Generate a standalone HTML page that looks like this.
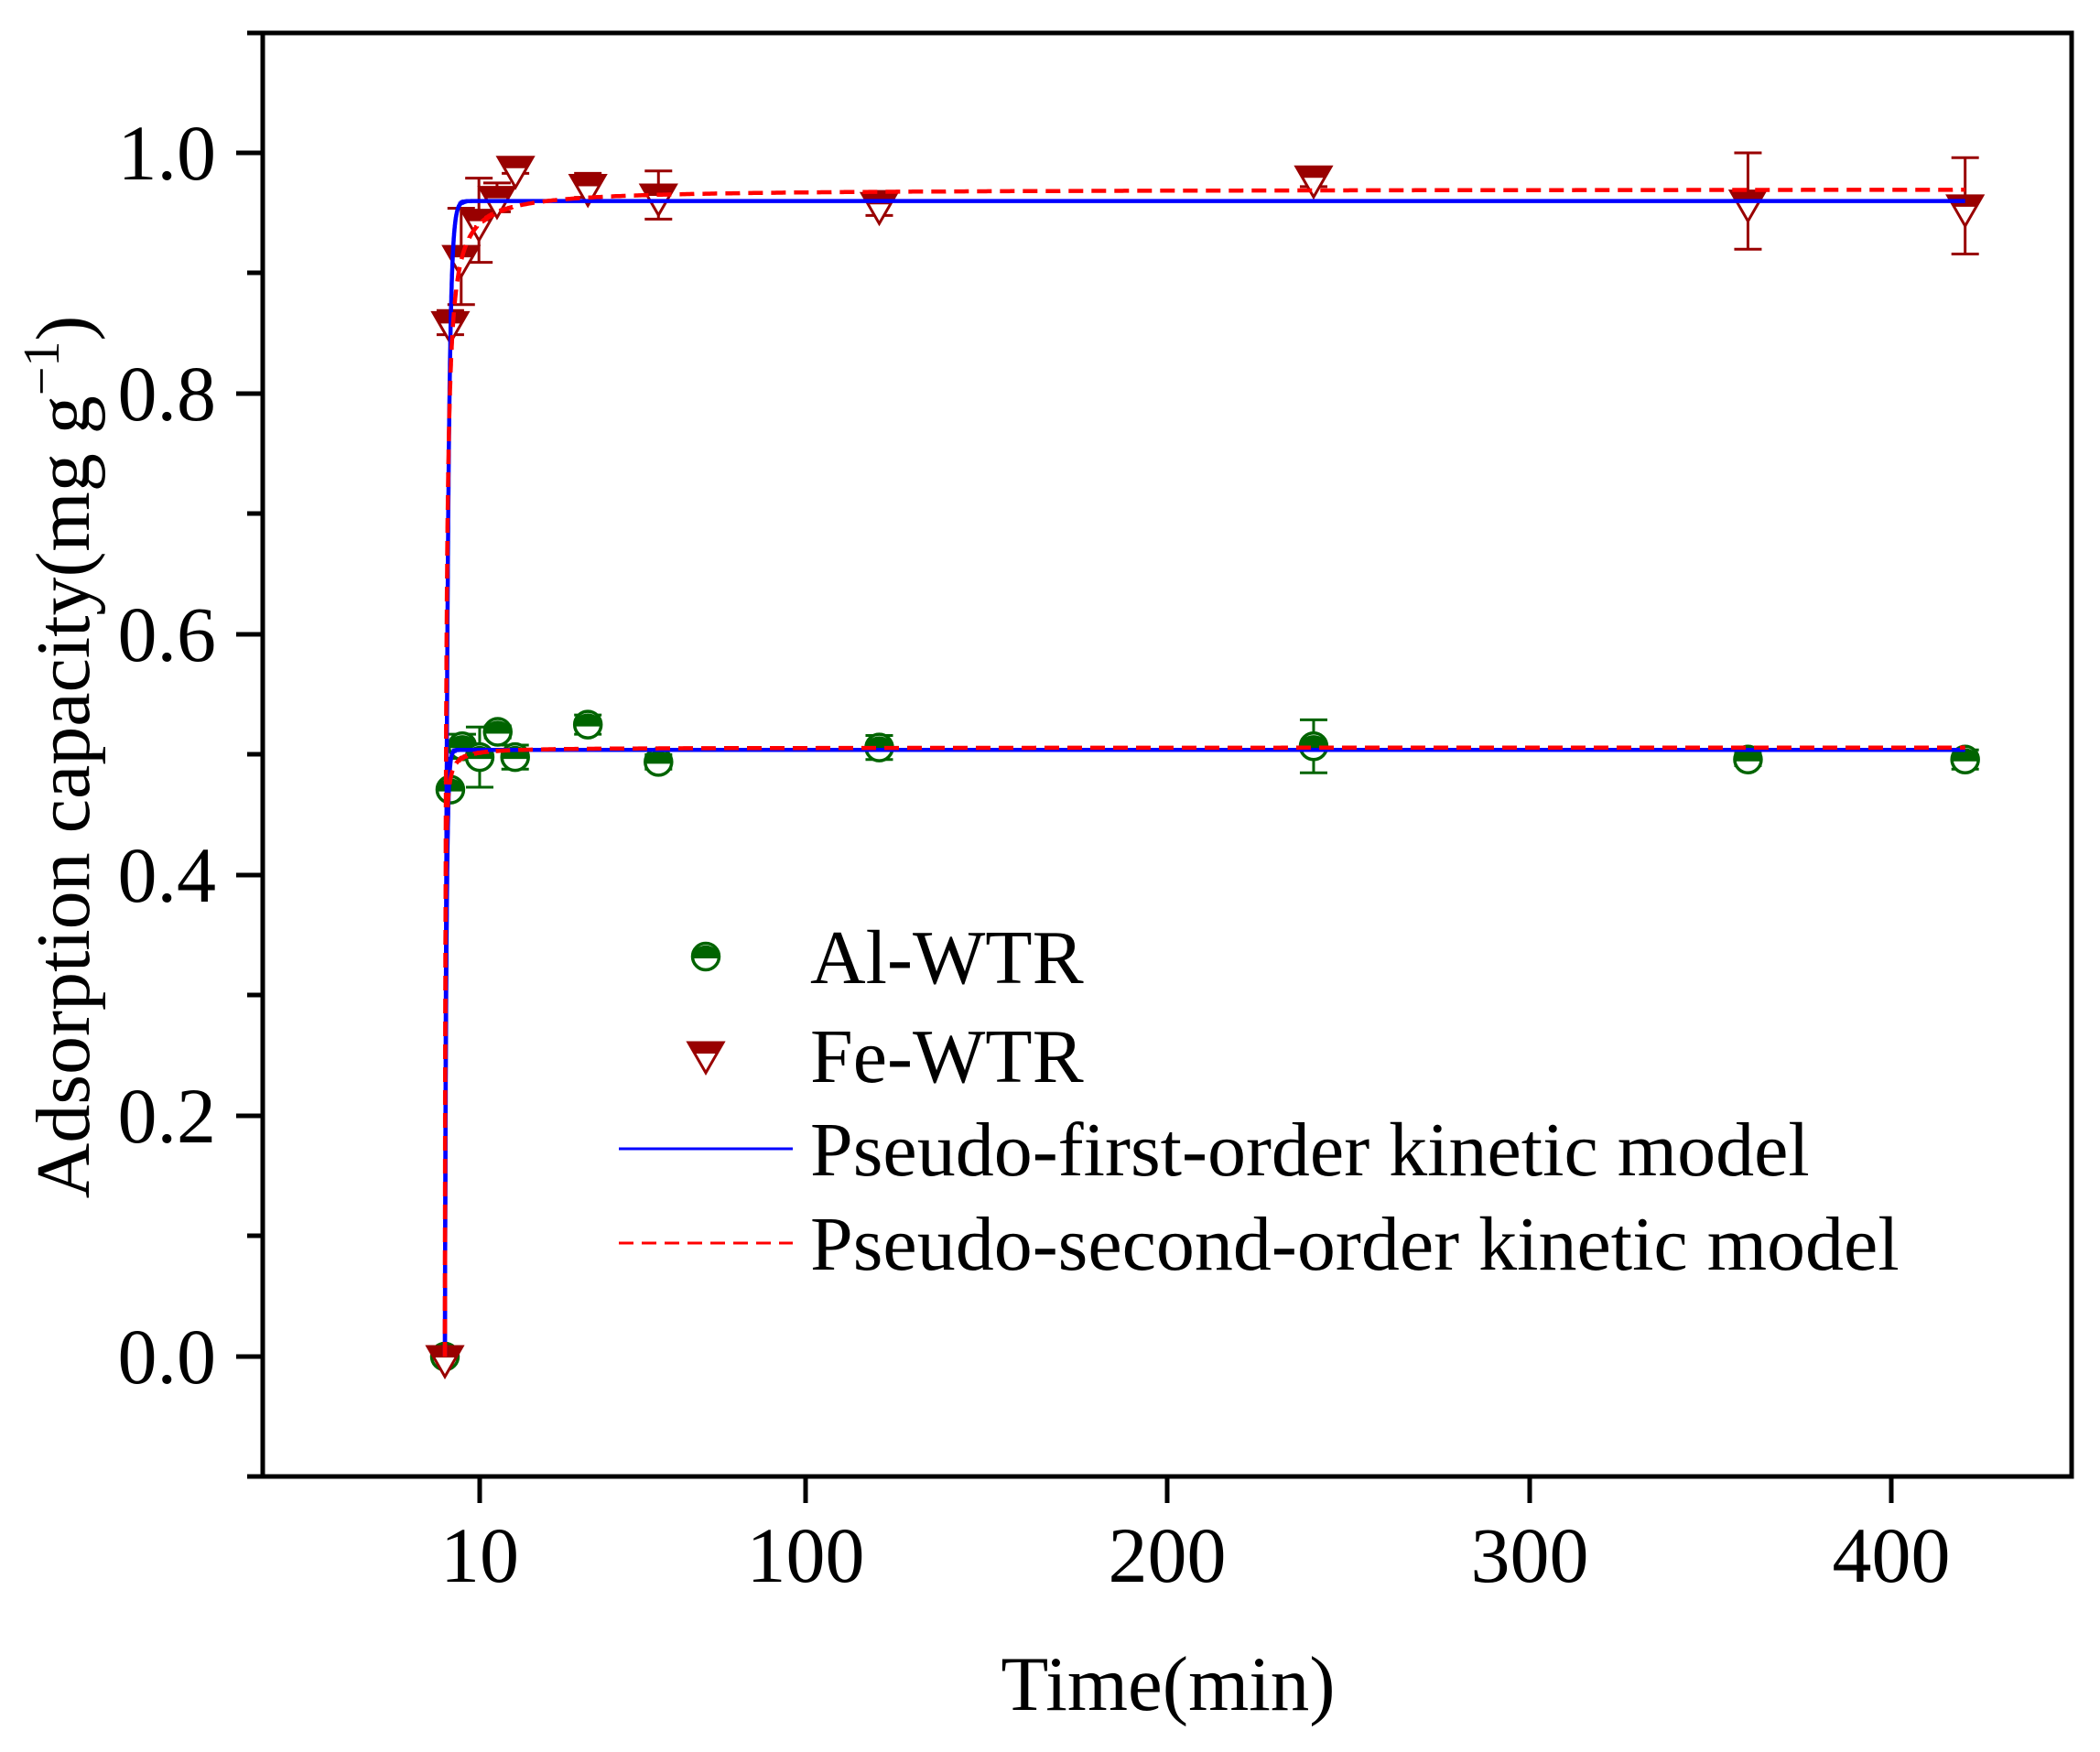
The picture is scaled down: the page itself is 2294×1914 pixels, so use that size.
<!DOCTYPE html>
<html><head><meta charset="utf-8"><style>
html,body{margin:0;padding:0;background:#fff;}
svg{display:block;}
text{font-family:"Liberation Serif",serif;fill:#000;}
</style></head><body>
<svg id="s" width="2294" height="1914" viewBox="0 0 2294 1914" xmlns="http://www.w3.org/2000/svg">
<rect width="2294" height="1914" fill="#fff"/>
<g id="data"></g>
<g id="curves"></g>
<rect x="287" y="36" width="1976" height="1577" fill="none" stroke="#000" stroke-width="5"/>
<g stroke="#000" stroke-width="5">
<line x1="258" y1="1482" x2="287" y2="1482"/>
<line x1="258" y1="1219" x2="287" y2="1219"/>
<line x1="258" y1="956" x2="287" y2="956"/>
<line x1="258" y1="693" x2="287" y2="693"/>
<line x1="258" y1="430" x2="287" y2="430"/>
<line x1="258" y1="167" x2="287" y2="167"/>
<line x1="270" y1="1613" x2="287" y2="1613"/>
<line x1="270" y1="1350" x2="287" y2="1350"/>
<line x1="270" y1="1087" x2="287" y2="1087"/>
<line x1="270" y1="824" x2="287" y2="824"/>
<line x1="270" y1="561" x2="287" y2="561"/>
<line x1="270" y1="298" x2="287" y2="298"/>
<line x1="270" y1="36" x2="287" y2="36"/>
<line x1="524" y1="1613" x2="524" y2="1642"/>
<line x1="880" y1="1613" x2="880" y2="1642"/>
<line x1="1275" y1="1613" x2="1275" y2="1642"/>
<line x1="1671" y1="1613" x2="1671" y2="1642"/>
<line x1="2066" y1="1613" x2="2066" y2="1642"/>
</g>
<g font-size="86" text-anchor="end">
<text x="236" y="1511">0.0</text>
<text x="236" y="1248">0.2</text>
<text x="236" y="985">0.4</text>
<text x="236" y="722">0.6</text>
<text x="236" y="459">0.8</text>
<text x="236" y="196">1.0</text>
</g>
<g font-size="86" text-anchor="middle">
<text x="524" y="1728">10</text>
<text x="880" y="1728">100</text>
<text x="1275" y="1728">200</text>
<text x="1671" y="1728">300</text>
<text x="2066" y="1728">400</text>
</g>
<text x="1276" y="1868" font-size="85" text-anchor="middle">Time(min)</text>
<text transform="translate(97,827) rotate(-90)" font-size="84" text-anchor="middle">Adsorption capacity(mg g<tspan dy="-33" font-size="56">−1</tspan><tspan dy="33">)</tspan></text>
<g id="leg"></g>
<g font-size="84">
<text x="885" y="1074">Al-WTR</text>
<text x="885" y="1182">Fe-WTR</text>
<text x="885" y="1284">Pseudo-first-order kinetic model</text>
<text x="885" y="1387">Pseudo-second-order kinetic model</text>
</g>
<line x1="676" y1="1255" x2="866" y2="1255" stroke="#0000ff" stroke-width="3"/>
<line x1="676" y1="1358" x2="866" y2="1358" stroke="#ff0000" stroke-width="3" stroke-dasharray="16,9"/>
</svg>
<script>
const NS="http://www.w3.org/2000/svg";
const X=t=>486+t*3.954, Y=v=>1482-v*1315;
const G="#006400", R="#990000";
function el(p,tag,a){const e=document.createElementNS(NS,tag);for(const k in a)e.setAttribute(k,a[k]);p.appendChild(e);return e;}
const d=document.getElementById("data"), lg=document.getElementById("leg");
function circ(p,x,y){
  el(p,"circle",{cx:x,cy:y,r:14.5,fill:"#fff",stroke:G,"stroke-width":3.5});
  el(p,"path",{d:`M${x-15.9},${y+2} A16,16 0 0 1 ${x+15.9},${y+2} Z`,fill:G});
}
function tri(p,x,y){
  el(p,"polygon",{points:`${x-19},${y-11} ${x+19},${y-11} ${x},${y+22}`,fill:"#fff",stroke:R,"stroke-width":3});
  el(p,"polygon",{points:`${x-19},${y-12} ${x+19},${y-12} ${x+12.4},${y+1} ${x-12.4},${y+1}`,fill:R});
}
function eb(p,x,y,e,c){
  el(p,"line",{x1:x,y1:y-e,x2:x,y2:y+e,stroke:c,"stroke-width":3});
  el(p,"line",{x1:x-15,y1:y-e,x2:x+15,y2:y-e,stroke:c,"stroke-width":3});
  el(p,"line",{x1:x-15,y1:y+e,x2:x+15,y2:y+e,stroke:c,"stroke-width":3});
}
const al=[[0,0,0],[1.5,0.471,0],[4.8,0.507,0.01],[9.6,0.498,0.025],[14.6,0.519,0.005],[19.4,0.498,0.01],[39.5,0.525,0.008],[59,0.494,0.006],[120,0.506,0.01],[240,0.507,0.022],[360,0.496,0.005],[420,0.496,0.008]];
const fe=[[0,0,0],[1.5,0.859,0.01],[4.5,0.914,0.04],[9.4,0.944,0.035],[14.4,0.963,0.012],[19.5,0.988,0.005],[39.5,0.973,0.01],[59,0.965,0.02],[120,0.958,0.01],[240,0.980,0.008],[360,0.960,0.04],[420,0.956,0.04]];
al.forEach(([t,v,e])=>{if(e)eb(d,X(t),Y(v),e*1315,G);});
al.forEach(([t,v])=>circ(d,X(t),Y(v)));
fe.forEach(([t,v,e])=>{if(e)eb(d,X(t),Y(v),e*1315,R);});
fe.forEach(([t,v])=>tri(d,X(t),Y(v)));
circ(lg,771,1045); tri(lg,771,1150);
const cv=document.getElementById("curves");
function curve(f,col,dash){
  let pts=[];for(let i=0;i<=2000;i++){const t=i<1000?i*0.02:20+(i-1000)*0.4;pts.push(X(t).toFixed(1)+","+Y(f(t)).toFixed(1));}
  const a={d:"M"+pts.join(" L"),fill:"none",stroke:col,"stroke-width":4.5};
  if(dash)a["stroke-dasharray"]=dash;
  el(cv,"path",a);
}
curve(t=>0.960*(1-Math.exp(-1.4*t)),"#0000ff");
curve(t=>0.504*(1-Math.exp(-2.5*t)),"#0000ff");
curve(t=>{const q=0.970,k=3.4;return q*k*t/(1+k*t);},"#ff0000","16,9");
curve(t=>{const q=0.506,k=12;return q*k*t/(1+k*t);},"#ff0000","16,9");
</script>
</body></html>
